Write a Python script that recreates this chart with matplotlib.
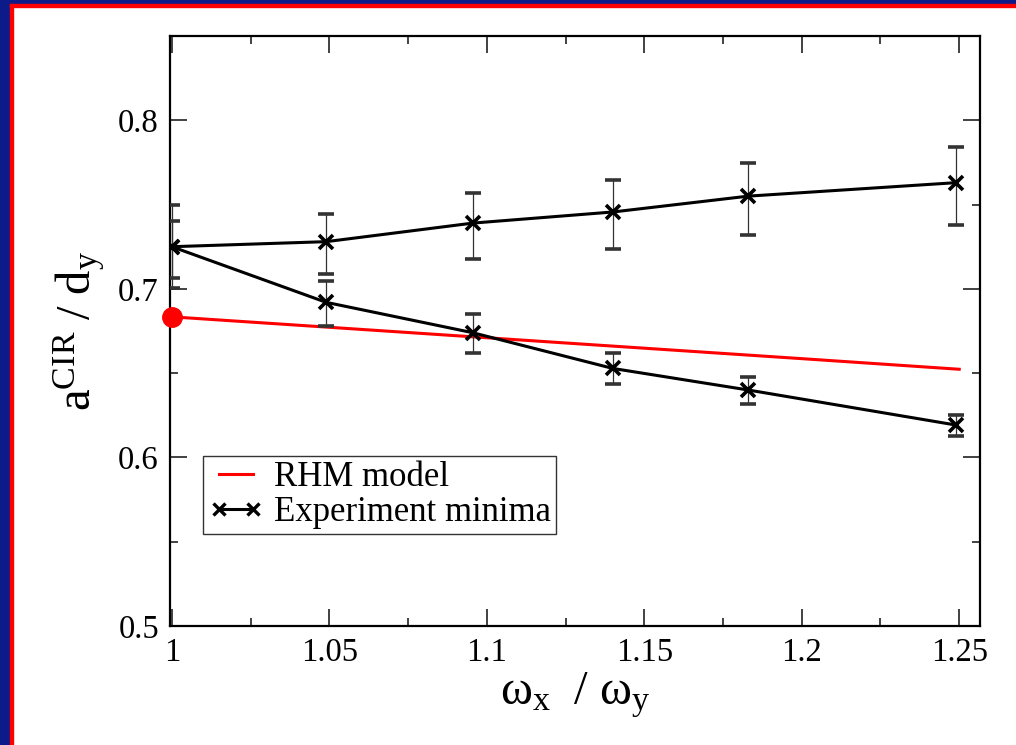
import matplotlib
matplotlib.use("Agg")
import matplotlib.pyplot as plt
from matplotlib.patches import Rectangle
from matplotlib.lines import Line2D

# trap frequency ratio
freq_ratio = [1.0, 1.049, 1.0955, 1.14, 1.183, 1.249]

# experiment minima, upper branch (value, lower / upper error bounds)
upper_min = [0.725, 0.728, 0.739, 0.7456, 0.755, 0.763]
upper_lo = [0.7063, 0.7091, 0.7178, 0.7239, 0.7318, 0.7377]
upper_hi = [0.7404, 0.7447, 0.7569, 0.7644, 0.7747, 0.784]

# experiment minima, lower branch
lower_min = [0.725, 0.692, 0.674, 0.6528, 0.640, 0.6192]
lower_lo = [0.7004, 0.6779, 0.6620, 0.6433, 0.6316, 0.6126]
lower_hi = [0.7496, 0.7045, 0.6848, 0.6617, 0.6475, 0.6251]

# RHM model curve
rhm_x = [1.0, 1.05, 1.1, 1.15, 1.2, 1.25]
rhm_y = [0.6834, 0.6772, 0.6710, 0.6648, 0.6586, 0.6523]

x_ticks = [1.0, 1.05, 1.1, 1.15, 1.2, 1.25]
x_ticklabels = ["1", "1.05", "1.1", "1.15", "1.2", "1.25"]
y_ticks = [0.5, 0.6, 0.7, 0.8]
y_ticklabels = ["0.5", "0.6", "0.7", "0.8"]

plt.rcParams["font.family"] = ["Liberation Serif", "DejaVu Serif"]
plt.rcParams["mathtext.fontset"] = "custom"
plt.rcParams["mathtext.rm"] = "Liberation Serif"
plt.rcParams["mathtext.it"] = "Liberation Serif:italic"

fig = plt.figure(figsize=(10.16, 7.45), dpi=100)

# blue / red frame on left and top edges
W, H = 1016, 745
fig.patches.append(Rectangle((0, 0), 10 / W, 1, transform=fig.transFigure, color="#0d1a8a", zorder=0))
fig.patches.append(Rectangle((0, 1 - 4 / H), 1, 4 / H, transform=fig.transFigure, color="#0d1a8a", zorder=0))
fig.patches.append(Rectangle((10 / W, 0), 2.5 / W, 1 - 4 / H, transform=fig.transFigure, color="#ff0000", zorder=1))
fig.patches.append(Rectangle((10 / W, 1 - 6.5 / H), 1 - 10 / W, 2.5 / H, transform=fig.transFigure, color="#ff0000", zorder=1))

ax = fig.add_axes([170 / W, 1 - 626 / H, 810 / W, 590 / H])

def err(vals, lo, hi):
    return [[v - l for v, l in zip(vals, lo)], [h - v for v, h in zip(vals, hi)]]

ax.plot(rhm_x, rhm_y, color="red", lw=2.2, zorder=3)
ax.plot(rhm_x[:1], rhm_y[:1], "o", color="red", ms=14, clip_on=False, zorder=5)

eb_style = dict(color="black", lw=2.2, marker="x", ms=10, mew=2.6, ecolor="#333333",
                elinewidth=0.9, capsize=5.8, capthick=0.9, zorder=4)
ax.errorbar(freq_ratio, upper_min, yerr=err(upper_min, upper_lo, upper_hi), **eb_style)
ax.errorbar(freq_ratio, lower_min, yerr=err(lower_min, lower_lo, lower_hi), **eb_style)

ax.set_xlim(0.9994, 1.2566)
ax.set_ylim(0.5, 0.85)
ax.set_xticks(x_ticks)
ax.set_xticklabels(x_ticklabels)
ax.set_yticks(y_ticks)
ax.set_yticklabels(y_ticklabels)
ax.set_xticks([1.025, 1.075, 1.125, 1.175, 1.225], minor=True)
ax.set_yticks([0.55, 0.65, 0.75, 0.85], minor=True)
ax.tick_params(which="both", direction="in", top=True, right=True, width=1.3, color="#333333")
ax.tick_params(which="major", length=12, labelsize=23.5, pad=8)
ax.tick_params(which="minor", length=6)
for s in ax.spines.values():
    s.set_linewidth(1.6)

ax.set_xlabel(r"$\mathrm{\omega_x\ \ /\ \omega_y}$", fontsize=35, labelpad=2)
ax.set_ylabel(r"$\mathrm{a^{CIR}\ /\ d_y}$", fontsize=35, labelpad=8)

handles = [Line2D([], [], color="red", lw=2.2),
           Line2D([], [], color="black", lw=2.2, marker="x", ms=8, mew=2.4)]
leg = ax.legend(handles, ["RHM model", "Experiment minima"], loc="upper left",
                bbox_to_anchor=(33 / 810, 170 / 590), numpoints=2,
                fontsize=25, frameon=True, fancybox=False, edgecolor="black",
                handlelength=1.6, handletextpad=0.3, borderpad=0.15, labelspacing=0.05,
                borderaxespad=0)
leg.get_frame().set_linewidth(1.0)

fig.savefig("out.png", dpi=100)
